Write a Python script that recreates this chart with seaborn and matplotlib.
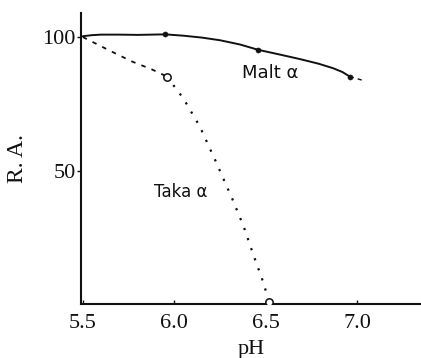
import numpy as np
import pandas as pd
import seaborn as sns
import matplotlib.pyplot as plt

# --- Data ---
# Malt alpha: smooth solid curve, measured points, dashed tail
malt_curve_ph = [5.5, 5.55, 5.6, 5.7, 5.8, 5.95, 6.05, 6.15, 6.25, 6.36, 6.46,
                 6.58, 6.69, 6.79, 6.87, 6.92, 6.96]
malt_curve_ra = [100.3, 100.7, 100.9, 100.9, 100.8, 101.0, 100.5, 99.8, 98.8,
                 97.2, 95.2, 93.4, 91.7, 90.0, 88.3, 86.9, 85.2]
malt_tail_ph = [6.96, 7.03]
malt_tail_ra = [85.2, 83.8]
malt_pts_ph = [5.95, 6.46, 6.96]
malt_pts_ra = [101.0, 95.2, 85.2]

# Taka alpha: dashed to first point, dotted curve down to zero
taka_dash_ph = [5.5, 5.65, 5.77, 5.88, 5.96]
taka_dash_ra = [100.0, 94.8, 90.8, 87.8, 85.2]
taka_dot_ph = [5.96, 6.05, 6.14, 6.23, 6.32, 6.38, 6.43, 6.48, 6.52]
taka_dot_ra = [85.2, 77.0, 66.5, 53.0, 39.0, 29.0, 19.0, 9.5, 0.8]
taka_pts_ph = [5.96, 6.52]
taka_pts_ra = [85.2, 0.8]

x_ticks = [5.5, 6.0, 6.5, 7.0]
x_labels = ["5.5", "6.0", "6.5", "7.0"]
y_ticks = [50, 100]
y_labels = ["50", "100"]

# --- Style ---
sns.set_style("ticks")
plt.rcParams['font.family'] = ['Liberation Serif', 'DejaVu Serif']

fig = plt.figure(figsize=(4.21, 3.58), dpi=100)
ax = fig.add_axes([81 / 421, 54 / 358, 340 / 421, 291 / 358])

ink = '#111111'

sns.lineplot(x=malt_curve_ph, y=malt_curve_ra, ax=ax, color=ink, lw=1.4,
             sort=False, estimator=None)
sns.lineplot(x=malt_tail_ph, y=malt_tail_ra, ax=ax, color=ink, lw=1.0,
             linestyle=(0, (3, 3)), sort=False, estimator=None)
sns.scatterplot(x=malt_pts_ph, y=malt_pts_ra, ax=ax, color=ink, s=14,
                edgecolor=ink, zorder=3)

sns.lineplot(x=taka_dash_ph, y=taka_dash_ra, ax=ax, color=ink, lw=1.3,
             linestyle=(0, (2.5, 3.5)), sort=False, estimator=None)
sns.lineplot(x=taka_dot_ph, y=taka_dot_ra, ax=ax, color=ink, lw=1.6,
             linestyle=(0, (1, 3.8)), sort=False, estimator=None)
sns.scatterplot(x=taka_pts_ph, y=taka_pts_ra, ax=ax, s=28, facecolor='white',
                edgecolor=ink, linewidth=1.1, zorder=3)

ax.set_xlim(5.49, 7.35)
ax.set_ylim(0, 109)
ax.set_xticks(x_ticks)
ax.set_xticklabels(x_labels)
ax.set_yticks(y_ticks)
ax.set_yticklabels(y_labels)
ax.tick_params(axis='x', direction='in', length=3, width=1, labelsize=16,
               colors=ink, pad=7)
ax.tick_params(axis='y', direction='out', length=3, width=1, labelsize=16,
               colors=ink, pad=1)

sns.despine(ax=ax)
for s in ['left', 'bottom']:
    ax.spines[s].set_linewidth(1.5)
    ax.spines[s].set_color(ink)

ax.set_xlabel("pH", fontsize=16, color=ink, labelpad=5)
ax.set_ylabel("R. A.", fontsize=17, color=ink, labelpad=10)

ax.text(6.37, 86.5, "Malt α", fontsize=13, color=ink, family='DejaVu Sans',
        ha='left', va='center')
ax.text(5.89, 42, "Taka α", fontsize=12, color=ink, family='DejaVu Sans',
        ha='left', va='center')

fig.savefig('out.png', dpi=100)
